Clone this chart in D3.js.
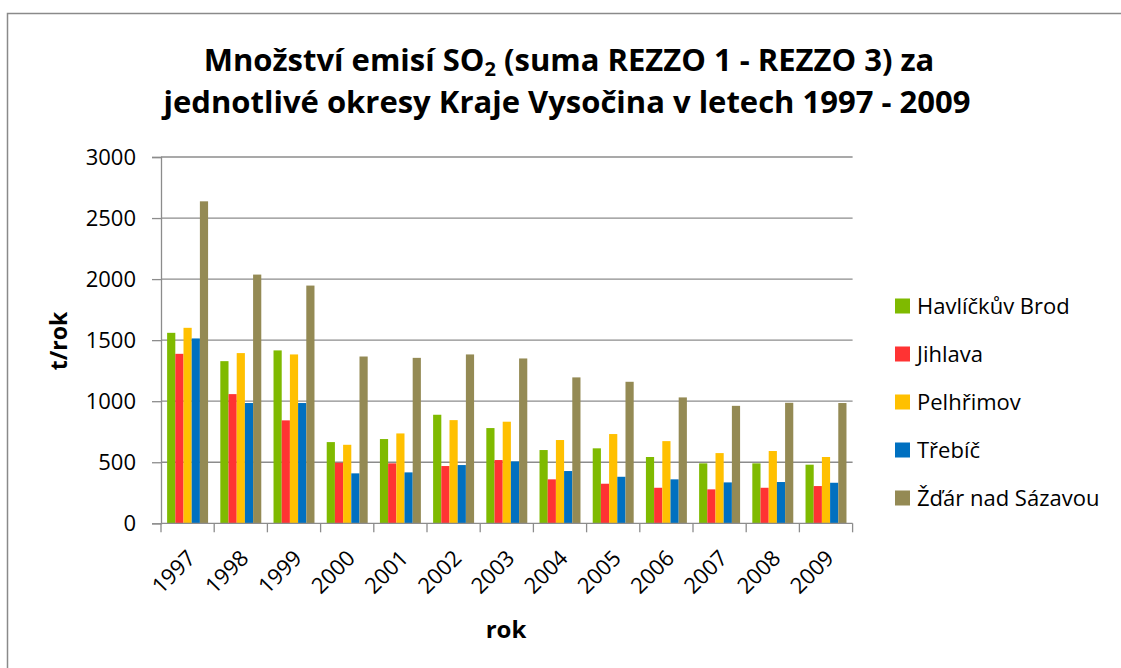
<!DOCTYPE html>
<html>
<head>
<meta charset="utf-8">
<script src="https://cdn.jsdelivr.net/npm/d3@7"></script>
<style>
  body { margin: 0; background: #fff; }
  svg { display: block; font-family: "Open Sans", sans-serif; }
</style>
</head>
<body>
<svg id="chart" width="1121" height="668"></svg>
<script>
// data
const years = ['1997', '1998', '1999', '2000', '2001', '2002', '2003', '2004', '2005', '2006', '2007', '2008', '2009'];
const districts = ['Havlíčkův Brod', 'Jihlava', 'Pelhřimov', 'Třebíč', 'Žďár nad Sázavou'];
const havlickuvBrod = [1560, 1328, 1416, 665, 690, 889, 780, 600, 614, 543, 491, 491, 480];
const jihlava = [1388, 1058, 843, 496, 491, 469, 518, 360, 324, 291, 278, 291, 305];
const pelhrimov = [1601, 1394, 1383, 643, 736, 845, 832, 682, 731, 673, 575, 592, 543];
const trebic = [1514, 985, 985, 409, 417, 477, 507, 428, 381, 360, 335, 338, 332];
const zdarNadSazavou = [2637, 2037, 1947, 1366, 1355, 1383, 1350, 1195, 1159, 1031, 962, 987, 985];
const yTicks = [0, 500, 1000, 1500, 2000, 2500, 3000];
const colors = ['#7fba00', '#ff3333', '#ffc000', '#0070c0', '#948a54'];

const values = [havlickuvBrod, jihlava, pelhrimov, trebic, zdarNadSazavou];

const svg = d3.select('#chart');
const plot = { left: 161, right: 852.6, top: 157, bottom: 523.3 };

// outer frame (left and top edges only are visible)
svg.append('path')
	.attr('d', 'M7.5,668V13.5H1121')
	.attr('fill', 'none')
	.attr('stroke', '#8a8a8a')
	.attr('stroke-width', 1.5);

// title
const title = svg.append('text')
	.attr('text-anchor', 'middle')
	.attr('font-weight', 'bold')
	.attr('font-size', 31)
	.attr('fill', '#000');
const t1 = title.append('tspan').attr('x', 569).attr('y', 71);
t1.append('tspan').text('Množství emisí SO');
t1.append('tspan').attr('font-size', 20).attr('baseline-shift', '-25%').text('2');
t1.append('tspan').text(' (suma REZZO 1 - REZZO 3) za');
title.append('tspan').attr('x', 567).attr('y', 113)
	.text('jednotlivé okresy Kraje Vysočina v letech 1997 - 2009');

const x0 = d3.scaleBand()
	.domain(years)
	.range([plot.left, plot.right]);

const x1 = d3.scaleBand()
	.domain(districts)
	.range([x0.bandwidth() * 0.115, x0.bandwidth() * 0.885]);

const y = d3.scaleLinear()
	.domain([0, 3000])
	.range([plot.bottom, plot.top]);

// gridlines
svg.append('g')
	.selectAll('line')
	.data(yTicks.slice(1))
	.join('line')
	.attr('x1', plot.left)
	.attr('x2', plot.right)
	.attr('y1', d => y(d))
	.attr('y2', d => y(d))
	.attr('stroke', '#8c8c8c')
	.attr('stroke-width', 1.3);

// bars
const groups = svg.append('g')
	.selectAll('g')
	.data(years)
	.join('g')
	.attr('transform', d => 'translate(' + x0(d) + ',0)');

groups.selectAll('rect')
	.data((yr, i) => districts.map((name, k) => ({ name: name, k: k, v: values[k][i] })))
	.join('rect')
	.attr('x', d => x1(d.name))
	.attr('width', x1.bandwidth())
	.attr('y', d => y(d.v))
	.attr('height', d => y(0) - y(d.v))
	.attr('fill', d => colors[d.k]);

// y axis
const yAxis = svg.append('g')
	.attr('transform', 'translate(' + plot.left + ',0)')
	.call(d3.axisLeft(y).tickValues(yTicks).tickFormat(d3.format('d')).tickSize(9).tickPadding(16));
yAxis.select('.domain').attr('stroke', '#8c8c8c').attr('stroke-width', 1.3);
yAxis.selectAll('.tick line').attr('stroke', '#8c8c8c').attr('stroke-width', 1.3);
yAxis.selectAll('.tick text')
	.attr('font-family', '"Open Sans", sans-serif')
	.attr('font-size', 22)
	.attr('fill', '#000');

// x axis: ticks sit on the category boundaries
const xAxisG = svg.append('g').attr('transform', 'translate(0,' + plot.bottom + ')');
xAxisG.append('line')
	.attr('x1', plot.left)
	.attr('x2', plot.right)
	.attr('stroke', '#8c8c8c')
	.attr('stroke-width', 1.3);
xAxisG.selectAll('.bound')
	.data(years.concat(['end']))
	.join('line')
	.attr('class', 'bound')
	.attr('x1', d => d === 'end' ? plot.right : x0(d))
	.attr('x2', d => d === 'end' ? plot.right : x0(d))
	.attr('y1', 0)
	.attr('y2', 9)
	.attr('stroke', '#8c8c8c')
	.attr('stroke-width', 1.3);
xAxisG.selectAll('.lbl')
	.data(years)
	.join('text')
	.attr('class', 'lbl')
	.attr('text-anchor', 'end')
	.attr('font-size', 22)
	.attr('dy', '0.72em')
	.attr('transform', d => 'translate(' + (x0(d) + x0.bandwidth() / 2 - 2) + ',25) rotate(-45)')
	.text(d => d);

// axis titles
svg.append('text')
	.attr('x', 506)
	.attr('y', 638)
	.attr('text-anchor', 'middle')
	.attr('font-weight', 'bold')
	.attr('font-size', 24)
	.text('rok');

svg.append('text')
	.attr('transform', 'translate(59,341) rotate(-90)')
	.attr('text-anchor', 'middle')
	.attr('dy', '0.35em')
	.attr('font-weight', 'bold')
	.attr('font-size', 23)
	.text('t/rok');

// legend
const legend = svg.append('g')
	.selectAll('g')
	.data(districts)
	.join('g')
	.attr('transform', (d, i) => 'translate(895,' + (306 + i * 48) + ')');
legend.append('rect')
	.attr('x', 0)
	.attr('y', -7.5)
	.attr('width', 15)
	.attr('height', 15)
	.attr('fill', (d, i) => colors[i]);
legend.append('text')
	.attr('x', 22)
	.attr('dy', '0.36em')
	.attr('font-size', 22)
	.text(d => d);
</script>
</body>
</html>
